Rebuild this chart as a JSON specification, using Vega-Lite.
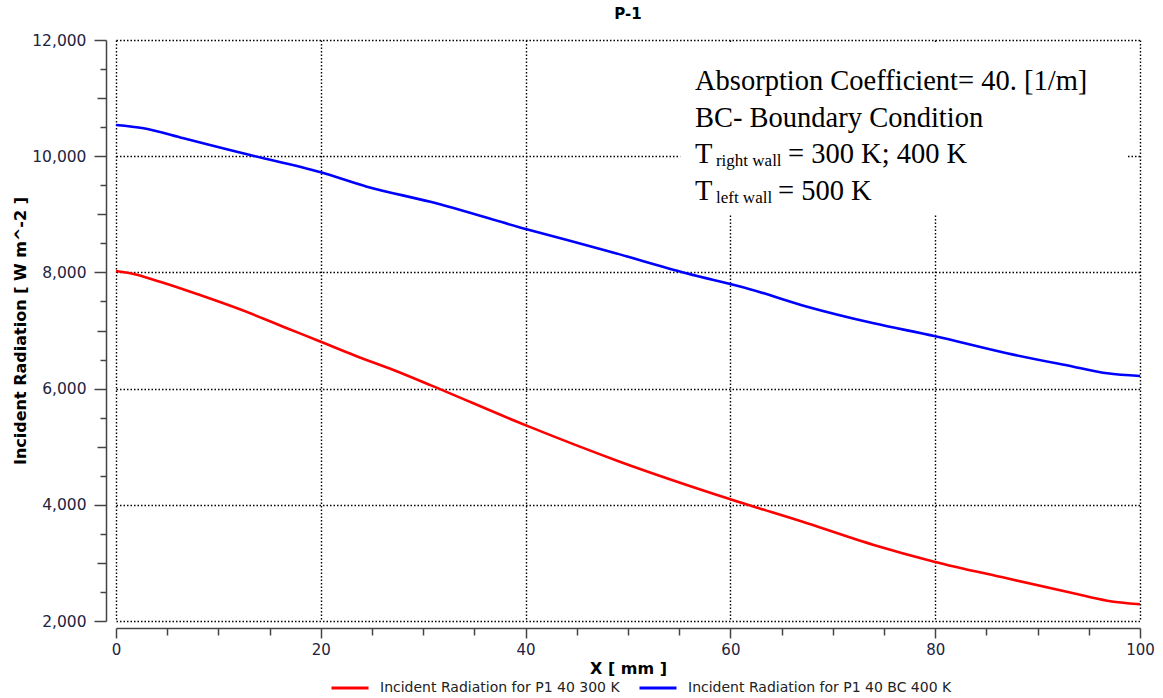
{
  "$schema": "https://vega.github.io/schema/vega-lite/v6.json",
  "width": 1024,
  "height": 581,
  "autosize": {"type": "none"},
  "padding": {"left": 116, "top": 40, "right": 23, "bottom": 77},
  "background": "white",
  "title": {"text": "P-1", "font": "DejaVu Sans", "fontSize": 15, "fontWeight": "bold", "color": "black", "offset": 11, "anchor": "middle"},
  "config": {"view": {"stroke": null}, "font": "DejaVu Sans"},
  "datasets": {
    "curves": [
      {"x": 0, "v": 8024, "s": "Incident Radiation for P1 40 300 K"},
      {"x": 1.4, "v": 7985, "s": "Incident Radiation for P1 40 300 K"},
      {"x": 4.3, "v": 7840, "s": "Incident Radiation for P1 40 300 K"},
      {"x": 8.2, "v": 7611, "s": "Incident Radiation for P1 40 300 K"},
      {"x": 12.1, "v": 7365, "s": "Incident Radiation for P1 40 300 K"},
      {"x": 16.7, "v": 7038, "s": "Incident Radiation for P1 40 300 K"},
      {"x": 20, "v": 6807, "s": "Incident Radiation for P1 40 300 K"},
      {"x": 23.2, "v": 6578, "s": "Incident Radiation for P1 40 300 K"},
      {"x": 27.1, "v": 6320, "s": "Incident Radiation for P1 40 300 K"},
      {"x": 30.7, "v": 6060, "s": "Incident Radiation for P1 40 300 K"},
      {"x": 40.1, "v": 5362, "s": "Incident Radiation for P1 40 300 K"},
      {"x": 49.2, "v": 4742, "s": "Incident Radiation for P1 40 300 K"},
      {"x": 60, "v": 4095, "s": "Incident Radiation for P1 40 300 K"},
      {"x": 67.5, "v": 3682, "s": "Incident Radiation for P1 40 300 K"},
      {"x": 74, "v": 3308, "s": "Incident Radiation for P1 40 300 K"},
      {"x": 79.9, "v": 3021, "s": "Incident Radiation for P1 40 300 K"},
      {"x": 87, "v": 2735, "s": "Incident Radiation for P1 40 300 K"},
      {"x": 93.5, "v": 2477, "s": "Incident Radiation for P1 40 300 K"},
      {"x": 96.8, "v": 2349, "s": "Incident Radiation for P1 40 300 K"},
      {"x": 100, "v": 2287, "s": "Incident Radiation for P1 40 300 K"},
      {"x": 0, "v": 10537, "s": "Incident Radiation for P1 40 BC 400 K"},
      {"x": 2.7, "v": 10480, "s": "Incident Radiation for P1 40 BC 400 K"},
      {"x": 6.6, "v": 10308, "s": "Incident Radiation for P1 40 BC 400 K"},
      {"x": 11.5, "v": 10090, "s": "Incident Radiation for P1 40 BC 400 K"},
      {"x": 13.1, "v": 10020, "s": "Incident Radiation for P1 40 BC 400 K"},
      {"x": 20, "v": 9723, "s": "Incident Radiation for P1 40 BC 400 K"},
      {"x": 24.5, "v": 9475, "s": "Incident Radiation for P1 40 BC 400 K"},
      {"x": 30.7, "v": 9215, "s": "Incident Radiation for P1 40 BC 400 K"},
      {"x": 40.1, "v": 8742, "s": "Incident Radiation for P1 40 BC 400 K"},
      {"x": 48, "v": 8370, "s": "Incident Radiation for P1 40 BC 400 K"},
      {"x": 55.7, "v": 7985, "s": "Incident Radiation for P1 40 BC 400 K"},
      {"x": 61.9, "v": 7712, "s": "Incident Radiation for P1 40 BC 400 K"},
      {"x": 67.5, "v": 7410, "s": "Incident Radiation for P1 40 BC 400 K"},
      {"x": 74, "v": 7124, "s": "Incident Radiation for P1 40 BC 400 K"},
      {"x": 79.9, "v": 6905, "s": "Incident Radiation for P1 40 BC 400 K"},
      {"x": 87, "v": 6608, "s": "Incident Radiation for P1 40 BC 400 K"},
      {"x": 93.5, "v": 6377, "s": "Incident Radiation for P1 40 BC 400 K"},
      {"x": 96.8, "v": 6263, "s": "Incident Radiation for P1 40 BC 400 K"},
      {"x": 100, "v": 6217, "s": "Incident Radiation for P1 40 BC 400 K"}
    ],
    "box": [{"x": 55.1, "xe": 98.7, "v": 8988, "ve": 11960}],
    "notes": [
      {"x": 56.54, "v": 11139, "t": "Absorption Coefficient= 40. [1/m]"},
      {"x": 56.54, "v": 10503, "t": "BC- Boundary Condition"},
      {"x": 56.54, "v": 9883, "t": "T"},
      {"x": 65.63, "v": 9883, "t": "= 300 K; 400 K"},
      {"x": 56.54, "v": 9246, "t": "T"},
      {"x": 64.65, "v": 9246, "t": "= 500 K"}
    ],
    "subs": [
      {"x": 58.59, "v": 9831, "t": "right wall"},
      {"x": 58.59, "v": 9194, "t": "left wall"}
    ]
  },
  "encoding": {
    "x": {
      "field": "x", "type": "quantitative",
      "scale": {"domain": [0, 100], "nice": false, "zero": false},
      "axis": {
        "title": "X [ mm ]",
        "titleFont": "DejaVu Sans", "titleFontSize": 16, "titleFontWeight": "bold", "titleColor": "black", "titlePadding": 3,
        "values": [0, 5, 10, 15, 20, 25, 30, 35, 40, 45, 50, 55, 60, 65, 70, 75, 80, 85, 90, 95, 100],
        "labelExpr": "datum.value % 20 === 0 ? datum.label : ''",
        "labelFont": "DejaVu Sans", "labelFontSize": 15, "labelColor": "#1e2340", "labelPadding": 4,
        "labelFlush": false, "labelOverlap": false,
        "tickSize": {"condition": {"test": "datum.value % 20 === 0", "value": 10}, "value": 7},
        "tickColor": "#444", "tickWidth": 1.5,
        "domainColor": "#444", "domainWidth": 1.5,
        "offset": 7,
        "grid": true, "gridColor": "#000", "gridDash": [1.5, 2], "gridWidth": 1.4,
        "gridOpacity": {"condition": {"test": "datum.value % 20 === 0", "value": 1}, "value": 0}
      }
    },
    "y": {
      "field": "v", "type": "quantitative",
      "scale": {"domain": [2000, 12000], "nice": false, "zero": false},
      "axis": {
        "title": "Incident Radiation [ W m^-2 ]",
        "titleFont": "DejaVu Sans", "titleFontSize": 16, "titleFontWeight": "bold", "titleColor": "black", "titlePadding": 3,
        "values": [2000, 2500, 3000, 3500, 4000, 4500, 5000, 5500, 6000, 6500, 7000, 7500, 8000, 8500, 9000, 9500, 10000, 10500, 11000, 11500, 12000],
        "format": ",d",
        "labelExpr": "datum.value % 2000 === 0 ? datum.label : ''",
        "labelFont": "DejaVu Sans", "labelFontSize": 15.5, "labelColor": "#1e2340", "labelPadding": 8,
        "labelFlush": false, "labelOverlap": false,
        "tickSize": {"condition": [{"test": "datum.value % 2000 === 0", "value": 12}, {"test": "datum.value % 1000 === 0", "value": 9}], "value": 6},
        "tickColor": "#444", "tickWidth": 1.5,
        "domainColor": "#444", "domainWidth": 1.5,
        "offset": 10,
        "grid": true, "gridColor": "#000", "gridDash": [1.5, 2], "gridWidth": 1.4,
        "gridOpacity": {"condition": {"test": "datum.value % 2000 === 0", "value": 1}, "value": 0}
      }
    }
  },
  "layer": [
    {
      "data": {"name": "curves"},
      "mark": {"type": "line", "strokeWidth": 2.6, "interpolate": "monotone"},
      "encoding": {
        "color": {
          "field": "s", "type": "nominal",
          "scale": {"domain": ["Incident Radiation for P1 40 300 K", "Incident Radiation for P1 40 BC 400 K"], "range": ["#ff0000", "#0000ff"]},
          "legend": {
            "title": null, "orient": "none", "legendX": 214, "legendY": 628, "direction": "horizontal",
            "symbolType": "stroke", "symbolStrokeWidth": 3, "symbolSize": 1369,
            "labelFont": "DejaVu Sans", "labelFontSize": 14, "labelColor": "#222", "labelOffset": 10, "labelLimit": 400,
            "columnPadding": 13
          }
        }
      }
    },
    {
      "data": {"name": "box"},
      "mark": {"type": "rect", "fill": "white"},
      "encoding": {
        "x2": {"field": "xe"},
        "y2": {"field": "ve"}
      }
    },
    {
      "data": {"name": "notes"},
      "mark": {"type": "text", "font": "Liberation Serif", "fontSize": 28.5, "align": "left", "baseline": "alphabetic", "color": "black"},
      "encoding": {
        "text": {"field": "t"}
      }
    },
    {
      "data": {"name": "subs"},
      "mark": {"type": "text", "font": "Liberation Serif", "fontSize": 17, "align": "left", "baseline": "alphabetic", "color": "black"},
      "encoding": {
        "text": {"field": "t"}
      }
    }
  ]
}
